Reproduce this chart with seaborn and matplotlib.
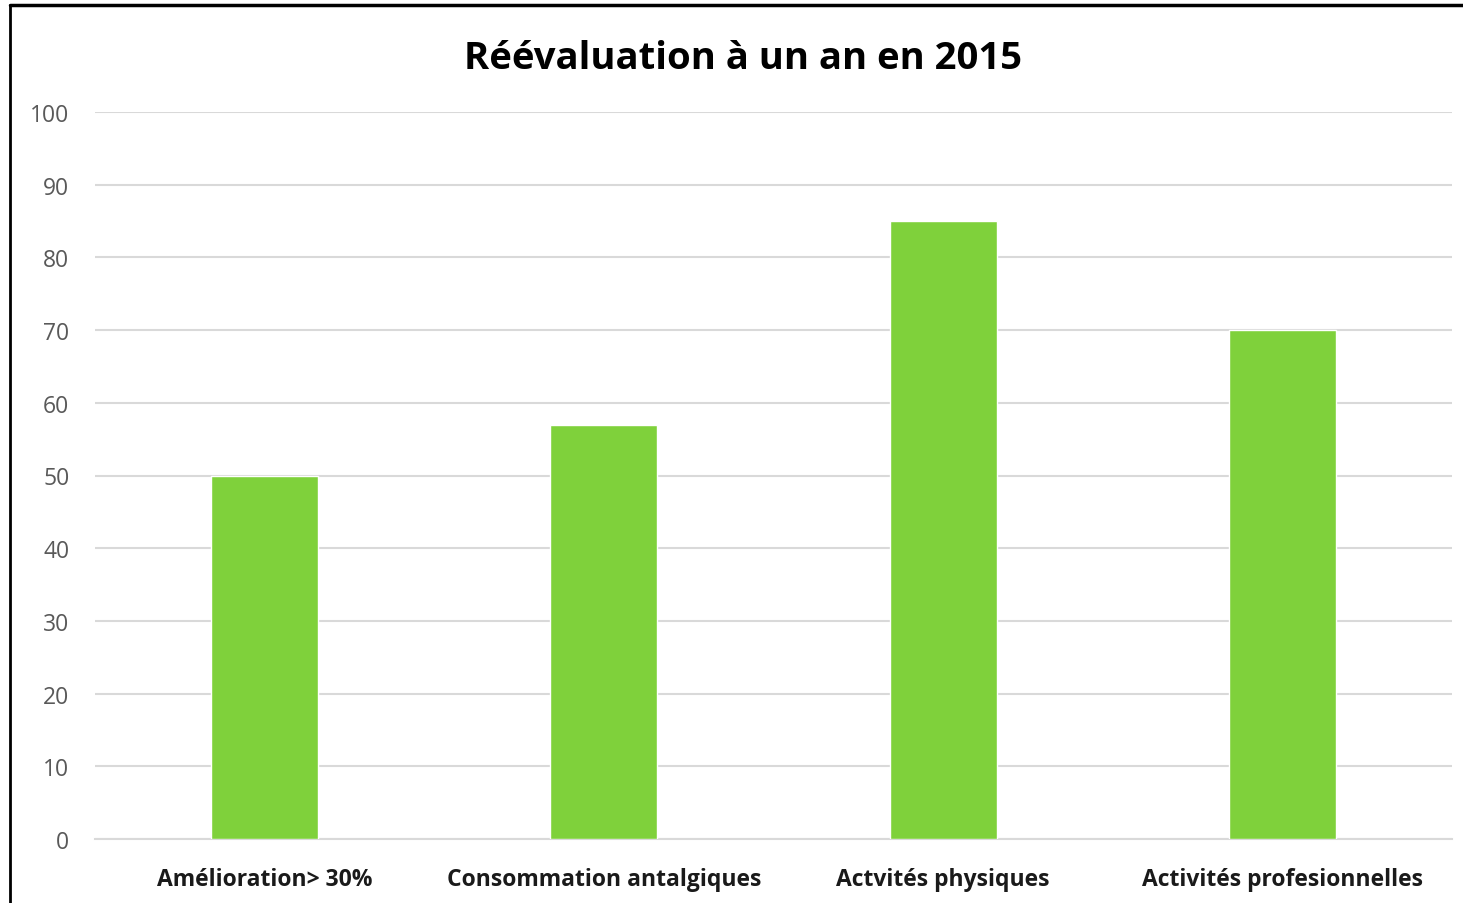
import matplotlib
matplotlib.use("Agg")
import matplotlib.pyplot as plt
import seaborn as sns
import pandas as pd
from matplotlib.lines import Line2D

categories = ["Amélioration> 30%", "Consommation antalgiques", "Actvités physiques", "Activités profesionnelles"]
values = [50, 57, 85, 70]
yticks = [0, 10, 20, 30, 40, 50, 60, 70, 80, 90, 100]
title = "Réévaluation à un an en 2015"

sns.set_theme(style="white")
plt.rcParams['font.family'] = ['Open Sans', 'DejaVu Sans']

W, H = 1463, 904
fig = plt.figure(figsize=(W / 100, H / 100), dpi=100)
ax = fig.add_axes([95 / W, (H - 840) / H, (1452 - 95) / W, (840 - 113) / H])

df = pd.DataFrame({"cat": categories, "val": values})
sns.barplot(data=df, x="cat", y="val", color="#7FD13B", width=0.315, ax=ax, saturation=1, zorder=3)

ax.set_ylim(0, 100)
ax.set_xlim(-0.5, 3.5)
ax.set_yticks(yticks)
ax.set_yticklabels([str(t) for t in yticks], fontsize=16.5, color="#595959")
ax.yaxis.grid(True, color="#D9D9D9", linewidth=1.5, zorder=0)
ax.set_axisbelow(True)
ax.set_xlabel("")
ax.set_ylabel("")
for s in ["top", "right", "left"]:
    ax.spines[s].set_visible(False)
ax.spines["bottom"].set_color("#D9D9D9")
ax.spines["bottom"].set_linewidth(1.5)
ax.tick_params(axis="both", length=0)
ax.tick_params(axis="y", pad=18.5)
ax.tick_params(axis="x", pad=20)
for lbl in ax.get_xticklabels():
    lbl.set_fontsize(16.5)
    lbl.set_fontweight("bold")
    lbl.set_color("#1a1a1a")

fig.text(743 / W, 1 - 59 / H, title, ha="center", va="center", fontsize=27.5, fontweight="bold", color="black")

# outer frame (left and top edges visible)
fig.add_artist(Line2D([10 / W, 10 / W], [0, 1 - 6 / H], color="black", linewidth=2, transform=fig.transFigure))
fig.add_artist(Line2D([10 / W, 1], [1 - 6 / H, 1 - 6 / H], color="black", linewidth=2.5, transform=fig.transFigure))

fig.savefig("out.png", dpi=100)
